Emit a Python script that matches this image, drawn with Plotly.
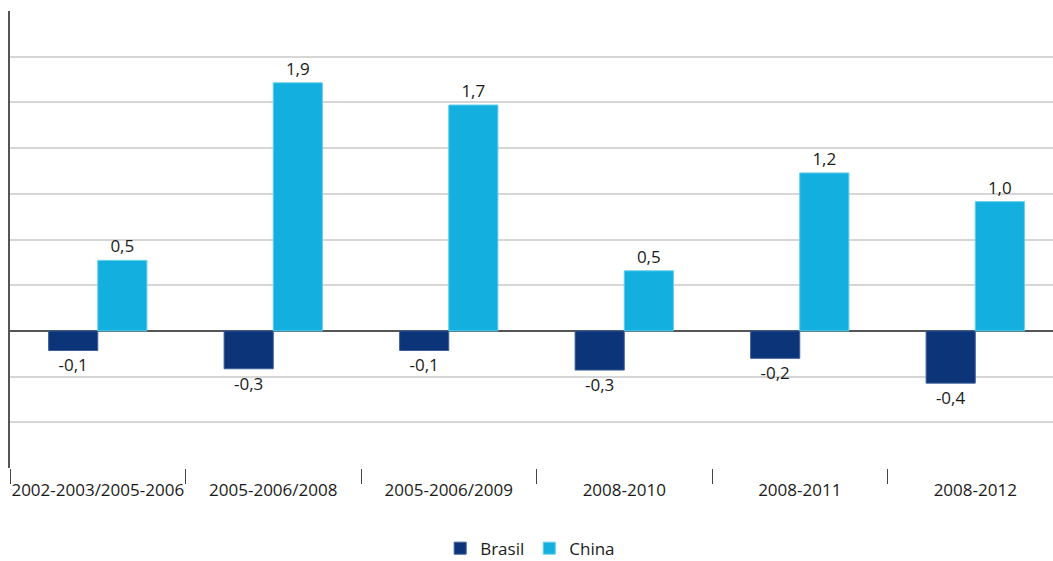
import plotly.graph_objects as go

categories = ["2002-2003/2005-2006", "2005-2006/2008", "2005-2006/2009",
              "2008-2010", "2008-2011", "2008-2012"]
brasil = [-0.15, -0.29, -0.15, -0.30, -0.21, -0.40]
china = [0.54, 1.90, 1.73, 0.46, 1.21, 0.99]


def fmt(v):
    return f"{v:.1f}".replace(".", ",")


FONT = "Open Sans"
TXT = "#1a1a1a"

fig = go.Figure()
fig.add_trace(go.Bar(
    name="Brasil", x=categories, y=brasil,
    marker=dict(color="#0b3479", line=dict(color="#3d5e98", width=1)),
    text=[fmt(v) for v in brasil], textposition="outside", constraintext="none",
    textfont=dict(family=FONT, size=17, color=TXT), cliponaxis=False,
))
fig.add_trace(go.Bar(
    name="China", x=categories, y=china,
    marker=dict(color="#13afde", line=dict(color="#62cdec", width=1)),
    text=[fmt(v) for v in china], textposition="outside", constraintext="none",
    textfont=dict(family=FONT, size=17, color=TXT), cliponaxis=False,
))

fig.update_layout(
    width=1063, height=561,
    margin=dict(l=10, r=0, t=11, b=93, autoexpand=False),
    paper_bgcolor="white", plot_bgcolor="white",
    barmode="group", bargap=0.44, bargroupgap=0,
    font=dict(family=FONT, size=17, color=TXT),
    showlegend=True,
    legend=dict(orientation="h", x=0.494, xanchor="center", y=-0.137, yanchor="top",
                font=dict(family=FONT, size=17, color=TXT),
                itemwidth=30, traceorder="normal"),
)
fig.update_xaxes(
    type="category", showgrid=False, showline=False, zeroline=False, automargin=False,
    ticks="outside", tickson="boundaries", ticklen=15, tickwidth=1.2, tickcolor="#444",
    tickangle=0, ticklabelstandoff=10, tickfont=dict(family=FONT, size=17, color=TXT),
)
fig.update_yaxes(
    range=[-1.05, 2.45], tick0=0, dtick=0.35, showticklabels=False, automargin=False,
    showgrid=True, gridcolor="#d6d6d6", gridwidth=1.5,
    zeroline=True, zerolinecolor="#555555", zerolinewidth=2,
    showline=True, linecolor="#555555", linewidth=1.5, ticks="",
)

fig.write_html("out.html", config={"displayModeBar": False},
               post_script="document.body.style.margin='0';document.body.style.overflow='hidden';")
